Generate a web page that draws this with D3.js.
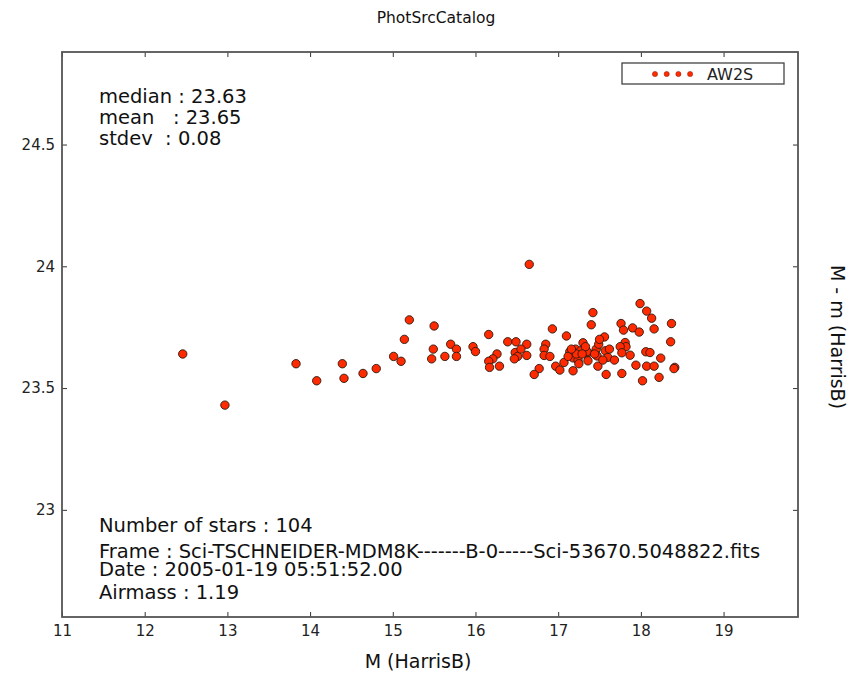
<!DOCTYPE html>
<html>
<head>
<meta charset="utf-8">
<script src="https://cdn.jsdelivr.net/npm/d3@7"></script>
<style>
  body { margin: 0; background: #fff; }
  svg { font-family: "DejaVu Sans", sans-serif; }
  .note { font-size: 19.5px; fill: #111; white-space: pre; }
</style>
</head>
<body>
<svg width="854" height="673"></svg>
<script>
// star magnitudes M (HarrisB) and zero point M - m
let magM = [
  12.46, 12.97, 13.83, 14.08, 14.39, 14.41, 14.64, 14.80, 15.01, 15.10,
  15.14, 15.20, 15.50, 15.49, 15.47, 15.63, 15.70, 15.77, 15.77, 15.97,
  16.00, 16.16, 16.26, 16.21, 16.16, 16.17, 16.29, 16.39, 16.49, 16.48,
  16.51, 16.47, 16.62, 16.62, 16.65, 16.77, 16.71, 16.85, 16.83, 16.83,
  16.90, 16.93, 17.10, 16.97, 17.02, 17.07, 17.18, 17.14, 17.21, 17.30,
  17.18, 17.24, 17.27, 17.36, 17.36, 17.40, 17.42, 17.46, 17.48, 17.99,
  18.07, 18.13, 17.76, 17.79, 17.90, 17.98, 18.16, 18.37, 18.36, 17.56,
  17.49, 17.81, 17.82, 17.75, 17.57, 17.35, 18.06, 18.11, 17.87, 17.77,
  17.47, 17.60, 17.68, 17.54, 18.24, 17.94, 18.07, 18.16, 18.41, 17.58,
  17.77, 18.02, 18.22, 18.40, 17.22, 17.12, 17.33, 17.44, 17.25, 16.55,
  17.50, 17.16, 17.62, 17.29
];
let zeroPt = [
  23.64, 23.43, 23.60, 23.53, 23.60, 23.54, 23.56, 23.58, 23.63, 23.61,
  23.70, 23.78, 23.755, 23.66, 23.62, 23.63, 23.68, 23.66, 23.63, 23.67,
  23.65, 23.72, 23.64, 23.62, 23.61, 23.585, 23.59, 23.69, 23.69, 23.646,
  23.63, 23.62, 23.68, 23.634, 24.008, 23.58, 23.556, 23.68, 23.66, 23.634,
  23.63, 23.743, 23.714, 23.59, 23.574, 23.605, 23.571, 23.649, 23.66, 23.686,
  23.624, 23.615, 23.653, 23.645, 23.612, 23.76, 23.81, 23.66, 23.59, 23.847,
  23.816, 23.787, 23.765, 23.738, 23.747, 23.73, 23.743, 23.765, 23.69, 23.71,
  23.68, 23.687, 23.67, 23.67, 23.653, 23.65, 23.649, 23.646, 23.635, 23.645,
  23.632, 23.626, 23.615, 23.615, 23.623, 23.594, 23.59, 23.59, 23.585, 23.556,
  23.56, 23.53, 23.544, 23.58, 23.64, 23.63, 23.67, 23.64, 23.60, 23.66,
  23.70, 23.66, 23.66, 23.64
];
let xTicks = [11, 12, 13, 14, 15, 16, 17, 18, 19];
let yTicks = [23, 23.5, 24, 24.5];
let xDomain = [11, 19.9];
let yDomain = [22.56, 24.88];

let infoTop = ["median : 23.63", "mean   : 23.65", "stdev  : 0.08"];
let infoBottom = [
  "Number of stars : 104",
  "Frame : Sci-TSCHNEIDER-MDM8K-------B-0-----Sci-53670.5048822.fits",
  "Date : 2005-01-19 05:51:52.00",
  "Airmass : 1.19"
];

let svg = d3.select("svg");
let margin = { top: 52, right: 56, bottom: 56, left: 62 };
let plotWidth = 854 - margin.left - margin.right;
let plotHeight = 673 - margin.top - margin.bottom;

let xScale = d3.scaleLinear().domain(xDomain).range([0, plotWidth]);
let yScale = d3.scaleLinear().domain(yDomain).range([plotHeight, 0]);

let plot = svg.append("g")
  .attr("transform", "translate(" + margin.left + "," + margin.top + ")");

// axes, ticks pointing inward on all four sides
let styleAxis = function(g) {
  g.select(".domain").remove();
  g.selectAll("line").attr("stroke", "#333").attr("stroke-width", 1);
  g.selectAll("text").attr("fill", "#222").style("font-size", "15px")
    .style("font-family", "DejaVu Sans, sans-serif");
};

plot.append("g")
  .attr("transform", "translate(0," + plotHeight + ")")
  .call(d3.axisBottom(xScale).tickValues(xTicks).tickSize(-5).tickPadding(8).tickFormat(d3.format("d")))
  .call(styleAxis);
plot.append("g")
  .call(d3.axisTop(xScale).tickValues(xTicks).tickSize(-5).tickFormat(""))
  .call(styleAxis);
plot.append("g")
  .call(d3.axisLeft(yScale).tickValues(yTicks).tickSize(-5).tickPadding(7).tickFormat(d => String(d)))
  .call(styleAxis);
plot.append("g")
  .attr("transform", "translate(" + plotWidth + ",0)")
  .call(d3.axisRight(yScale).tickValues(yTicks).tickSize(-5).tickFormat(""))
  .call(styleAxis);

// frame
plot.append("rect")
  .attr("width", plotWidth).attr("height", plotHeight)
  .attr("fill", "none").attr("stroke", "#555").attr("stroke-width", 1.8);

// points
let pairs = magM.map((m, i) => [m, zeroPt[i]]);
plot.selectAll("circle.star")
  .data(pairs)
  .enter().append("circle")
  .attr("class", "star")
  .attr("cx", d => xScale(d[0]))
  .attr("cy", d => yScale(d[1]))
  .attr("r", 4.2)
  .attr("fill", "#ff2a00")
  .attr("stroke", "#2a1a10")
  .attr("stroke-width", 0.9);

// stats text
let topY = [51, 72, 93];
plot.selectAll("text.top")
  .data(infoTop)
  .enter().append("text")
  .attr("class", "note top")
  .attr("x", 37)
  .attr("y", (d, i) => topY[i])
  .text(d => d);

let bottomY = [480, 506, 524, 547];
plot.selectAll("text.bottom")
  .data(infoBottom)
  .enter().append("text")
  .attr("class", "note bottom")
  .attr("x", 37)
  .attr("y", (d, i) => bottomY[i])
  .text(d => d);

// legend
let legend = plot.append("g").attr("transform", "translate(560,11)");
legend.append("rect")
  .attr("width", 162).attr("height", 21)
  .attr("fill", "#fff").attr("stroke", "#444").attr("stroke-width", 1.3);
legend.selectAll("circle")
  .data([0, 1, 2, 3])
  .enter().append("circle")
  .attr("cx", d => 33 + d * 11.7)
  .attr("cy", 11)
  .attr("r", 2.6)
  .attr("fill", "#ff2a00")
  .attr("stroke", "#8a1a00")
  .attr("stroke-width", 0.5);
legend.append("text")
  .attr("x", 85).attr("y", 16.5)
  .style("font-size", "16px").attr("fill", "#222")
  .text("AW2S");

// title and axis labels
svg.append("text")
  .attr("x", 436).attr("y", 23)
  .attr("text-anchor", "middle")
  .style("font-size", "15.5px").attr("fill", "#111")
  .text("PhotSrcCatalog");

svg.append("text")
  .attr("x", 418).attr("y", 668)
  .attr("text-anchor", "middle")
  .style("font-size", "19px").attr("fill", "#111")
  .text("M (HarrisB)");

svg.append("text")
  .attr("transform", "translate(831,337) rotate(90)")
  .attr("text-anchor", "middle")
  .style("font-size", "19px").attr("fill", "#111")
  .text("M - m (HarrisB)");
</script>
</body>
</html>
